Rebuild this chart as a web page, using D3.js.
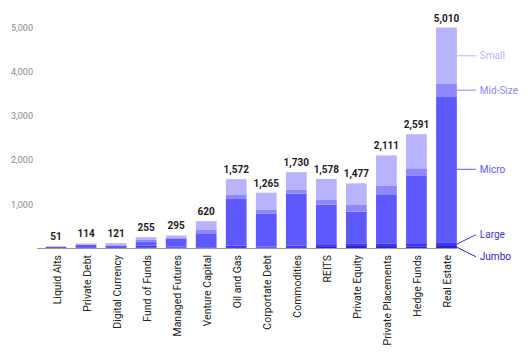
<!DOCTYPE html>
<html>
<head>
<meta charset="utf-8">
<script src="https://cdn.jsdelivr.net/npm/d3@7"></script>
<style>
  body { margin: 0; background: #fff; }
  text { font-family: Roboto, Arial, sans-serif; }
</style>
</head>
<body>
<svg id="chart" width="529" height="352"></svg>
<script>
const categories = ['Liquid Alts', 'Private Debt', 'Digital Currency', 'Fund of Funds', 'Managed Futures',
    'Venture Capital', 'Oil and Gas', 'Corportate Debt', 'Commodities', 'REITS', 'Private Equity',
    'Private Placements', 'Hedge Funds', 'Real Estate'];
const seriesNames = ['Jumbo', 'Large', 'Micro', 'Mid-Size', 'Small'];
const jumbo   = [2, 6, 5, 25, 20, 12, 30, 20, 30, 35, 58, 55, 50, 57];
const large   = [4, 8, 6, 40, 25, 15, 34, 21, 34, 44, 60, 63, 52, 84];
const micro   = [30, 65, 55, 80, 170, 318, 1058, 748, 1179, 914, 717, 1095, 1542, 3310];
const midSize = [5, 10, 10, 50, 20, 75, 91, 84, 84, 107, 151, 204, 175, 279];
const small   = [10, 25, 45, 60, 60, 200, 359, 392, 403, 478, 491, 694, 772, 1280];
const yTicks = [1000, 2000, 3000, 4000, 5000];

const colors = ['#2b21d6', '#3d35f0', '#5d59fe', '#8e88fc', '#b8b3fd'];

const svg = d3.select('#chart');
const seriesValues = [jumbo, large, micro, midSize, small];

const rows = categories.map((c, i) => {
    const r = { cat: c };
    seriesNames.forEach((s, k) => { r[s] = seriesValues[k][i]; });
    return r;
});
const stacked = d3.stack().keys(seriesNames)(rows);

const x = d3.scaleBand().domain(categories).range([41, 461.5]).paddingInner(0.31).paddingOuter(0.155);
const y = d3.scaleLinear().domain([0, 5000]).range([248.5, 28]);

// y labels
svg.append('g').selectAll('text')
    .data(yTicks)
    .enter().append('text')
    .attr('x', 33)
    .attr('y', d => y(d))
    .attr('dy', '0.35em')
    .attr('text-anchor', 'end')
    .attr('font-size', 9)
    .attr('fill', '#8a8a8a')
    .text(d => d3.format(',')(d));

// bars
svg.append('g').selectAll('g')
    .data(stacked)
    .enter().append('g')
    .attr('fill', (d, i) => colors[i])
    .selectAll('rect')
    .data(d => d)
    .enter().append('rect')
    .attr('x', d => x(d.data.cat))
    .attr('y', d => y(d[1]))
    .attr('width', x.bandwidth())
    .attr('height', d => y(d[0]) - y(d[1]));

// baseline
svg.append('line')
    .attr('x1', 37).attr('x2', x(categories[categories.length - 1]) + x.bandwidth())
    .attr('y1', y(0)).attr('y2', y(0))
    .attr('stroke', '#9a9a9a').attr('stroke-width', 1);

// totals
svg.append('g').selectAll('text')
    .data(rows)
    .enter().append('text')
    .attr('x', d => x(d.cat) + x.bandwidth() / 2)
    .attr('y', d => y(d3.sum(seriesNames, s => d[s])) - 6)
    .attr('text-anchor', 'middle')
    .attr('font-size', 10)
    .attr('font-weight', 'bold')
    .attr('fill', '#222')
    .text(d => d3.format(',')(d3.sum(seriesNames, s => d[s])));

// x labels
svg.append('g').selectAll('text')
    .data(categories)
    .enter().append('text')
    .attr('transform', d => `translate(${x(d) + x.bandwidth() / 2 + 1},255) rotate(-90)`)
    .attr('dy', '0.35em')
    .attr('text-anchor', 'end')
    .attr('font-size', 10.5)
    .attr('fill', '#222')
    .text(d => d);

// series labels next to last bar
const last = categories.length - 1;
const barRight = x(categories[last]) + x.bandwidth();
const labels = stacked.map((s, i) => ({ name: seriesNames[i], color: colors[i], mid: y((s[last][0] + s[last][1]) / 2) }));
labels.forEach(l => { l.ly = l.mid; });
// spread labels that are too close
const minGap = 22;
for (let iter = 0; iter < 10; iter++) {
    const sorted = labels.slice().sort((a, b) => a.ly - b.ly);
    for (let i = 1; i < sorted.length; i++) {
        const a = sorted[i - 1], b = sorted[i];
        if (b.ly - a.ly < minGap) {
            const c = (a.ly + b.ly) / 2;
            a.ly = c - minGap / 2;
            b.ly = c + minGap / 2;
        }
    }
}
const lg = svg.append('g');
lg.selectAll('line')
    .data(labels)
    .enter().append('line')
    .attr('x1', barRight).attr('y1', d => d.mid)
    .attr('x2', barRight + 19).attr('y2', d => d.ly)
    .attr('stroke', d => d.color).attr('stroke-width', 1);
lg.selectAll('text')
    .data(labels)
    .enter().append('text')
    .attr('x', barRight + 23)
    .attr('y', d => d.ly)
    .attr('dy', '0.35em')
    .attr('font-size', 10)
    .attr('fill', d => d.color)
    .text(d => d.name);
</script>
</body>
</html>
